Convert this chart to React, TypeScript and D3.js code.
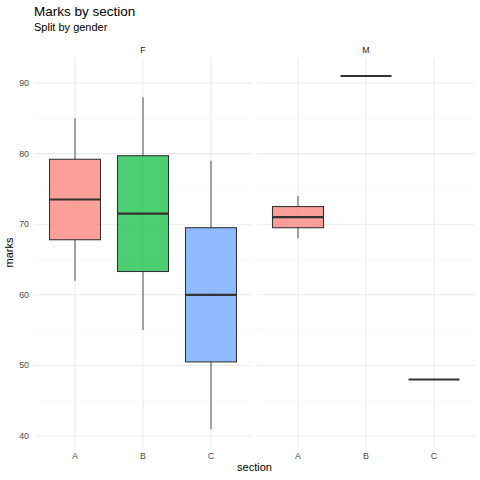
import * as d3 from "d3";

// five-number summaries per section: [lower whisker, Q1, median, Q3, upper whisker]
const sections = ["A", "B", "C"];
const genders = ["F", "M"];
const summaryF = [
  [62, 67.8, 73.5, 79.2, 85],
  [55, 63.3, 71.5, 79.7, 88],
  [41, 50.5, 60, 69.5, 79],
];
const summaryM = [
  [68, 69.5, 71, 72.5, 74],
  [91, 91, 91, 91, 91],
  [48, 48, 48, 48, 48],
];
const yTicks = [40, 50, 60, 70, 80, 90];
const yMinor = [45, 55, 65, 75, 85];
const fills = ["#F8766D", "#00BA38", "#619CFF"];

const W = 480;
const H = 480;
const panelTop = 58.3;
const panelBottom = 446.6;
const panels = [
  { x0: 34.2, x1: 251.8 },
  { x0: 257.2, x1: 474.8 },
];
const font = "'Liberation Sans', Arial, sans-serif";

export default function App() {
  const y = d3
    .scaleLinear()
    .domain([38.5, 93.5])
    .range([panelBottom, panelTop]);

  const stats = [summaryF, summaryM];
  const plotMidX = (panels[0].x0 + panels[1].x1) / 2;

  return (
    <svg
      width={W}
      height={H}
      style={{ position: "fixed", left: 0, top: 0, background: "#fff" }}
      fontFamily={font}
    >
      <rect width={W} height={H} fill="#fff" />
      <text x={34} y={15.7} fontSize={13.5} fill="#000">
        Marks by section
      </text>
      <text x={34} y={30.7} fontSize={11} fill="#000">
        Split by gender
      </text>

      {genders.map((g, gi) => {
        const p = panels[gi];
        const x = d3.scalePoint().domain(sections).range([p.x0, p.x1]).padding(0.6);
        const bw = x.step() * 0.75;
        return (
          <g key={g}>
            {/* grid */}
            {yMinor.map((t) => (
              <line
                key={"m" + t}
                x1={p.x0}
                x2={p.x1}
                y1={y(t)}
                y2={y(t)}
                stroke="#F3F3F3"
                strokeWidth={0.55}
              />
            ))}
            {yTicks.map((t) => (
              <line
                key={"M" + t}
                x1={p.x0}
                x2={p.x1}
                y1={y(t)}
                y2={y(t)}
                stroke="#EBEBEB"
                strokeWidth={1.07}
              />
            ))}
            {sections.map((s) => (
              <line
                key={"v" + s}
                x1={x(s)}
                x2={x(s)}
                y1={panelTop}
                y2={panelBottom}
                stroke="#EBEBEB"
                strokeWidth={1.07}
              />
            ))}

            {/* boxes */}
            {sections.map((s, si) => {
              const [lo, q1, med, q3, hi] = stats[gi][si];
              const cx = x(s) ?? 0;
              return (
                <g key={"b" + s}>
                  <line x1={cx} x2={cx} y1={y(hi)} y2={y(q3)} stroke="#333" strokeWidth={1.07} strokeOpacity={0.8} />
                  <line x1={cx} x2={cx} y1={y(q1)} y2={y(lo)} stroke="#333" strokeWidth={1.07} strokeOpacity={0.8} />
                  <rect
                    x={cx - bw / 2}
                    y={y(q3)}
                    width={bw}
                    height={y(q1) - y(q3)}
                    fill={fills[si]}
                    fillOpacity={0.7}
                    stroke="#333"
                    strokeWidth={1.07}
                  />
                  <line
                    x1={cx - bw / 2}
                    x2={cx + bw / 2}
                    y1={y(med)}
                    y2={y(med)}
                    stroke="#333"
                    strokeWidth={2.13}
                  />
                </g>
              );
            })}

            {/* strip label */}
            <text
              x={(p.x0 + p.x1) / 2}
              y={50}
              fontSize={8.8}
              fill="#1A1A1A"
              textAnchor="middle"
              dominantBaseline="central"
            >
              {g}
            </text>

            {/* x ticks */}
            {sections.map((s) => (
              <text
                key={"t" + s}
                x={x(s)}
                y={456}
                fontSize={8.8}
                fill="#4D4D4D"
                textAnchor="middle"
                dominantBaseline="central"
              >
                {s}
              </text>
            ))}
          </g>
        );
      })}

      {yTicks.map((t) => (
        <text
          key={"yt" + t}
          x={29}
          y={y(t)}
          fontSize={8.8}
          fill="#4D4D4D"
          textAnchor="end"
          dominantBaseline="central"
        >
          {t}
        </text>
      ))}

      <text x={plotMidX} y={470.7} fontSize={11} fill="#000" textAnchor="middle">
        section
      </text>
      <text
        transform={`translate(9,${(panelTop + panelBottom) / 2}) rotate(-90)`}
        fontSize={11}
        fill="#000"
        textAnchor="middle"
        dominantBaseline="central"
      >
        marks
      </text>
    </svg>
  );
}
